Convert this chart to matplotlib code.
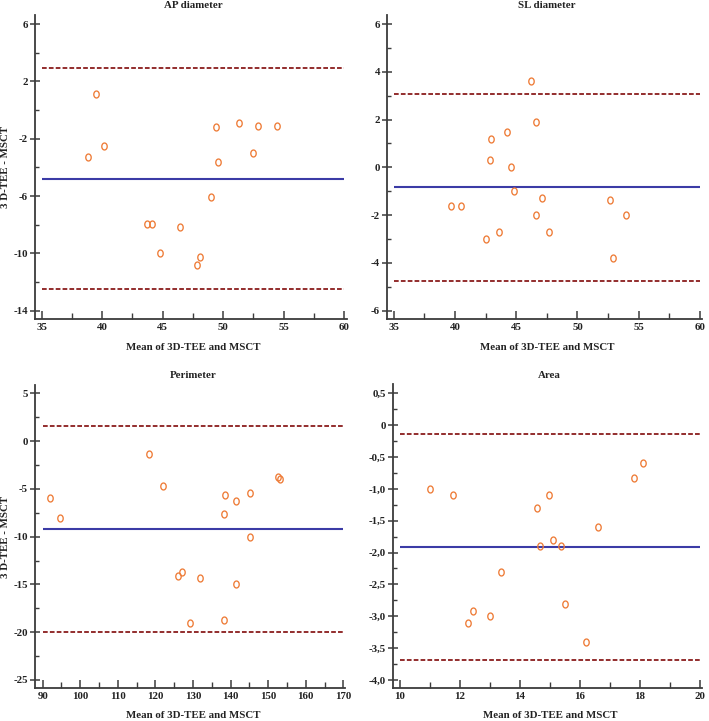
import matplotlib
matplotlib.use("Agg")
import numpy as np
import matplotlib.pyplot as plt
from matplotlib.path import Path
from matplotlib.ticker import FixedLocator, FuncFormatter

# ---------------- data ----------------
ap_x = [38.86, 39.49, 40.18, 43.74, 44.15, 44.81, 46.41, 47.85, 48.09, 48.98,
        49.44, 49.56, 51.34, 52.50, 52.86, 54.48]
ap_y = [-3.30, 1.12, -2.49, -7.98, -7.98, -10.00, -8.19, -10.82, -10.28, -6.07,
        -1.19, -3.61, -0.89, -2.98, -1.10, -1.10]
ap_lines = [-4.79, 2.91, -12.47]  # bias, upper LoA, lower LoA

sl_x = [39.68, 40.49, 42.50, 42.86, 42.91, 43.61, 44.24, 44.59, 44.81, 46.20,
        46.60, 46.63, 47.14, 47.66, 52.69, 52.93, 53.99]
sl_y = [-1.61, -1.61, -3.00, 0.29, 1.20, -2.69, 1.49, 0.00, -0.99, 3.60,
        -2.00, 1.90, -1.30, -2.69, -1.38, -3.78, -2.00]
sl_lines = [-0.84, 3.06, -4.74]

per_x = [91.86, 94.60, 118.29, 122.10, 125.93, 127.15, 129.30, 131.78, 138.25,
         138.33, 138.60, 141.50, 141.50, 145.10, 145.10, 152.54, 153.24]
per_y = [-5.92, -8.02, -1.38, -4.70, -14.09, -13.70, -19.07, -14.30, -7.60,
         -18.69, -5.61, -6.30, -14.99, -5.46, -10.00, -3.79, -4.00]
per_lines = [-9.20, 1.55, -19.94]

area_x = [11.00, 11.77, 12.27, 12.46, 13.00, 13.36, 14.56, 14.67, 14.97, 15.10,
          15.36, 15.50, 16.20, 16.61, 17.80, 18.12]
area_y = [-1.00, -1.10, -3.10, -2.91, -3.00, -2.30, -1.30, -1.90, -1.10, -1.80,
          -1.90, -2.80, -3.40, -1.60, -0.83, -0.60]
area_lines = [-1.91, -0.14, -3.69]

titles = ["AP diameter", "SL diameter", "Perimeter", "Area"]
xlabel = "Mean of 3D-TEE and MSCT"
ylabel = "3 D-TEE - MSCT"

# ---------------- style ----------------
plt.rcParams["axes.unicode_minus"] = False
FONT = ["Liberation Serif", "DejaVu Serif"]
FS = 7.8
ORANGE = "#EE7A35"
BLUE = "#3B3BA6"
DRED = "#8A1C1C"
SPINE = "#3C3C3C"

# slightly tall open ellipse marker
_t = np.linspace(0, 2 * np.pi, 41)
ELLIPSE = Path(np.column_stack([0.78 * np.cos(_t), np.sin(_t)]))

W, H = 709, 721
fig = plt.figure(figsize=(W / 100, H / 100), dpi=100)


def add_ax(l, t, r, b):
    return fig.add_axes([l / W, 1 - b / H, (r - l) / W, (b - t) / H])


panels = [
    dict(box=(35, 15, 347, 319), xlim=(34.45, 60.25), ylim=(-14.58, 6.63),
         xr=(35, 60), xmaj=[35, 40, 45, 50, 55, 60],
         xmin=[37.5, 42.5, 47.5, 52.5, 57.5],
         ymaj=[-14, -10, -6, -2, 2, 6], ymin=[-12, -8, -4, 0, 4],
         x=ap_x, y=ap_y, lines=ap_lines, fmt=None, ylab=True,
         title_y=5, xlab_y=347),
    dict(box=(387, 15, 702, 319), xlim=(34.46, 60.16), ylim=(-6.35, 6.38),
         xr=(35, 60), xmaj=[35, 40, 45, 50, 55, 60],
         xmin=[37.5, 42.5, 47.5, 52.5, 57.5],
         ymaj=[-6, -4, -2, 0, 2, 4, 6], ymin=[-5, -3, -1, 1, 3, 5],
         x=sl_x, y=sl_y, lines=sl_lines, fmt=None, ylab=False,
         title_y=5, xlab_y=347),
    dict(box=(35, 385, 345, 688), xlim=(87.95, 170.45), ylim=(-25.84, 5.87),
         xr=(90, 170), xmaj=list(range(90, 171, 10)),
         xmin=list(range(95, 170, 10)),
         ymaj=[-25, -20, -15, -10, -5, 0, 5],
         ymin=[-22.5, -17.5, -12.5, -7.5, -2.5, 2.5],
         x=per_x, y=per_y, lines=per_lines, fmt=None, ylab=True,
         title_y=375, xlab_y=716),
    dict(box=(393, 384, 702, 688), xlim=(9.78, 20.07), ylim=(-4.126, 0.646),
         xr=(10, 20), xmaj=[10, 12, 14, 16, 18, 20],
         xmin=[11, 13, 15, 17, 19],
         ymaj=[-4.0, -3.5, -3.0, -2.5, -2.0, -1.5, -1.0, -0.5, 0.0, 0.5],
         ymin=[-3.75, -3.25, -2.75, -2.25, -1.75, -1.25, -0.75, -0.25, 0.25],
         x=area_x, y=area_y, lines=area_lines, fmt="comma", ylab=False,
         title_y=375, xlab_y=716),
]

for title, p in zip(titles, panels):
    l, t, r, b = p["box"]
    ax = add_ax(l, t, r, b)
    ax.set_xlim(*p["xlim"])
    ax.set_ylim(*p["ylim"])
    bias, up, lo = p["lines"]
    x0, x1 = p["xr"]
    ax.hlines(bias, x0, x1, color=BLUE, lw=1.5, zorder=2)
    ax.hlines([up, lo], x0, x1, color=DRED, lw=1.3,
              linestyles=[(0, (2.6, 1.2))], zorder=2)
    ax.plot(p["x"], p["y"], linestyle="none", marker=ELLIPSE, markersize=5.0,
            markerfacecolor="none", markeredgecolor=ORANGE,
            markeredgewidth=0.95, zorder=3)
    for s in ("top", "right"):
        ax.spines[s].set_visible(False)
    for s in ("left", "bottom"):
        ax.spines[s].set_color(SPINE)
        ax.spines[s].set_linewidth(1.3)
    ax.xaxis.set_major_locator(FixedLocator(p["xmaj"]))
    ax.xaxis.set_minor_locator(FixedLocator(p["xmin"]))
    ax.yaxis.set_major_locator(FixedLocator(p["ymaj"]))
    ax.yaxis.set_minor_locator(FixedLocator(p["ymin"]))
    if p["fmt"] == "comma":
        ax.yaxis.set_major_formatter(FuncFormatter(
            lambda v, pos: "0" if abs(v) < 1e-9 else f"{v:.1f}".replace(".", ",")))
    else:
        ax.yaxis.set_major_formatter(FuncFormatter(lambda v, pos: f"{v:g}"))
    ax.xaxis.set_major_formatter(FuncFormatter(lambda v, pos: f"{v:g}"))
    ax.tick_params(axis="y", which="major", direction="inout", length=7,
                   width=1.1, color=SPINE, pad=1.5)
    ax.tick_params(axis="y", which="minor", direction="in", length=3,
                   width=1.0, color=SPINE)
    ax.tick_params(axis="x", which="major", direction="in", length=6,
                   width=1.1, color=SPINE, pad=3)
    ax.tick_params(axis="x", which="minor", direction="in", length=4,
                   width=1.0, color=SPINE)
    for lab in ax.get_xticklabels() + ax.get_yticklabels():
        lab.set_fontfamily(FONT)
        lab.set_fontweight("bold")
        lab.set_fontsize(FS)
        lab.set_color("#222222")
    xc_data = (x0 + x1) / 2
    xc_px = l + (xc_data - p["xlim"][0]) / (p["xlim"][1] - p["xlim"][0]) * (r - l)
    fig.text(xc_px / W, 1 - p["title_y"] / H, title, ha="center", va="center",
             family=FONT, weight="bold", fontsize=FS, color="#222222")
    fig.text(xc_px / W, 1 - p["xlab_y"] / H, xlabel, ha="center", va="center",
             family=FONT, weight="bold", fontsize=FS, color="#222222")
    if p["ylab"]:
        fig.text(6 / W, 1 - ((t + b) / 2) / H, ylabel, ha="center",
                 va="center", rotation=90, family=FONT, weight="bold",
                 fontsize=FS, color="#222222")

fig.savefig("out.png", dpi=100)
